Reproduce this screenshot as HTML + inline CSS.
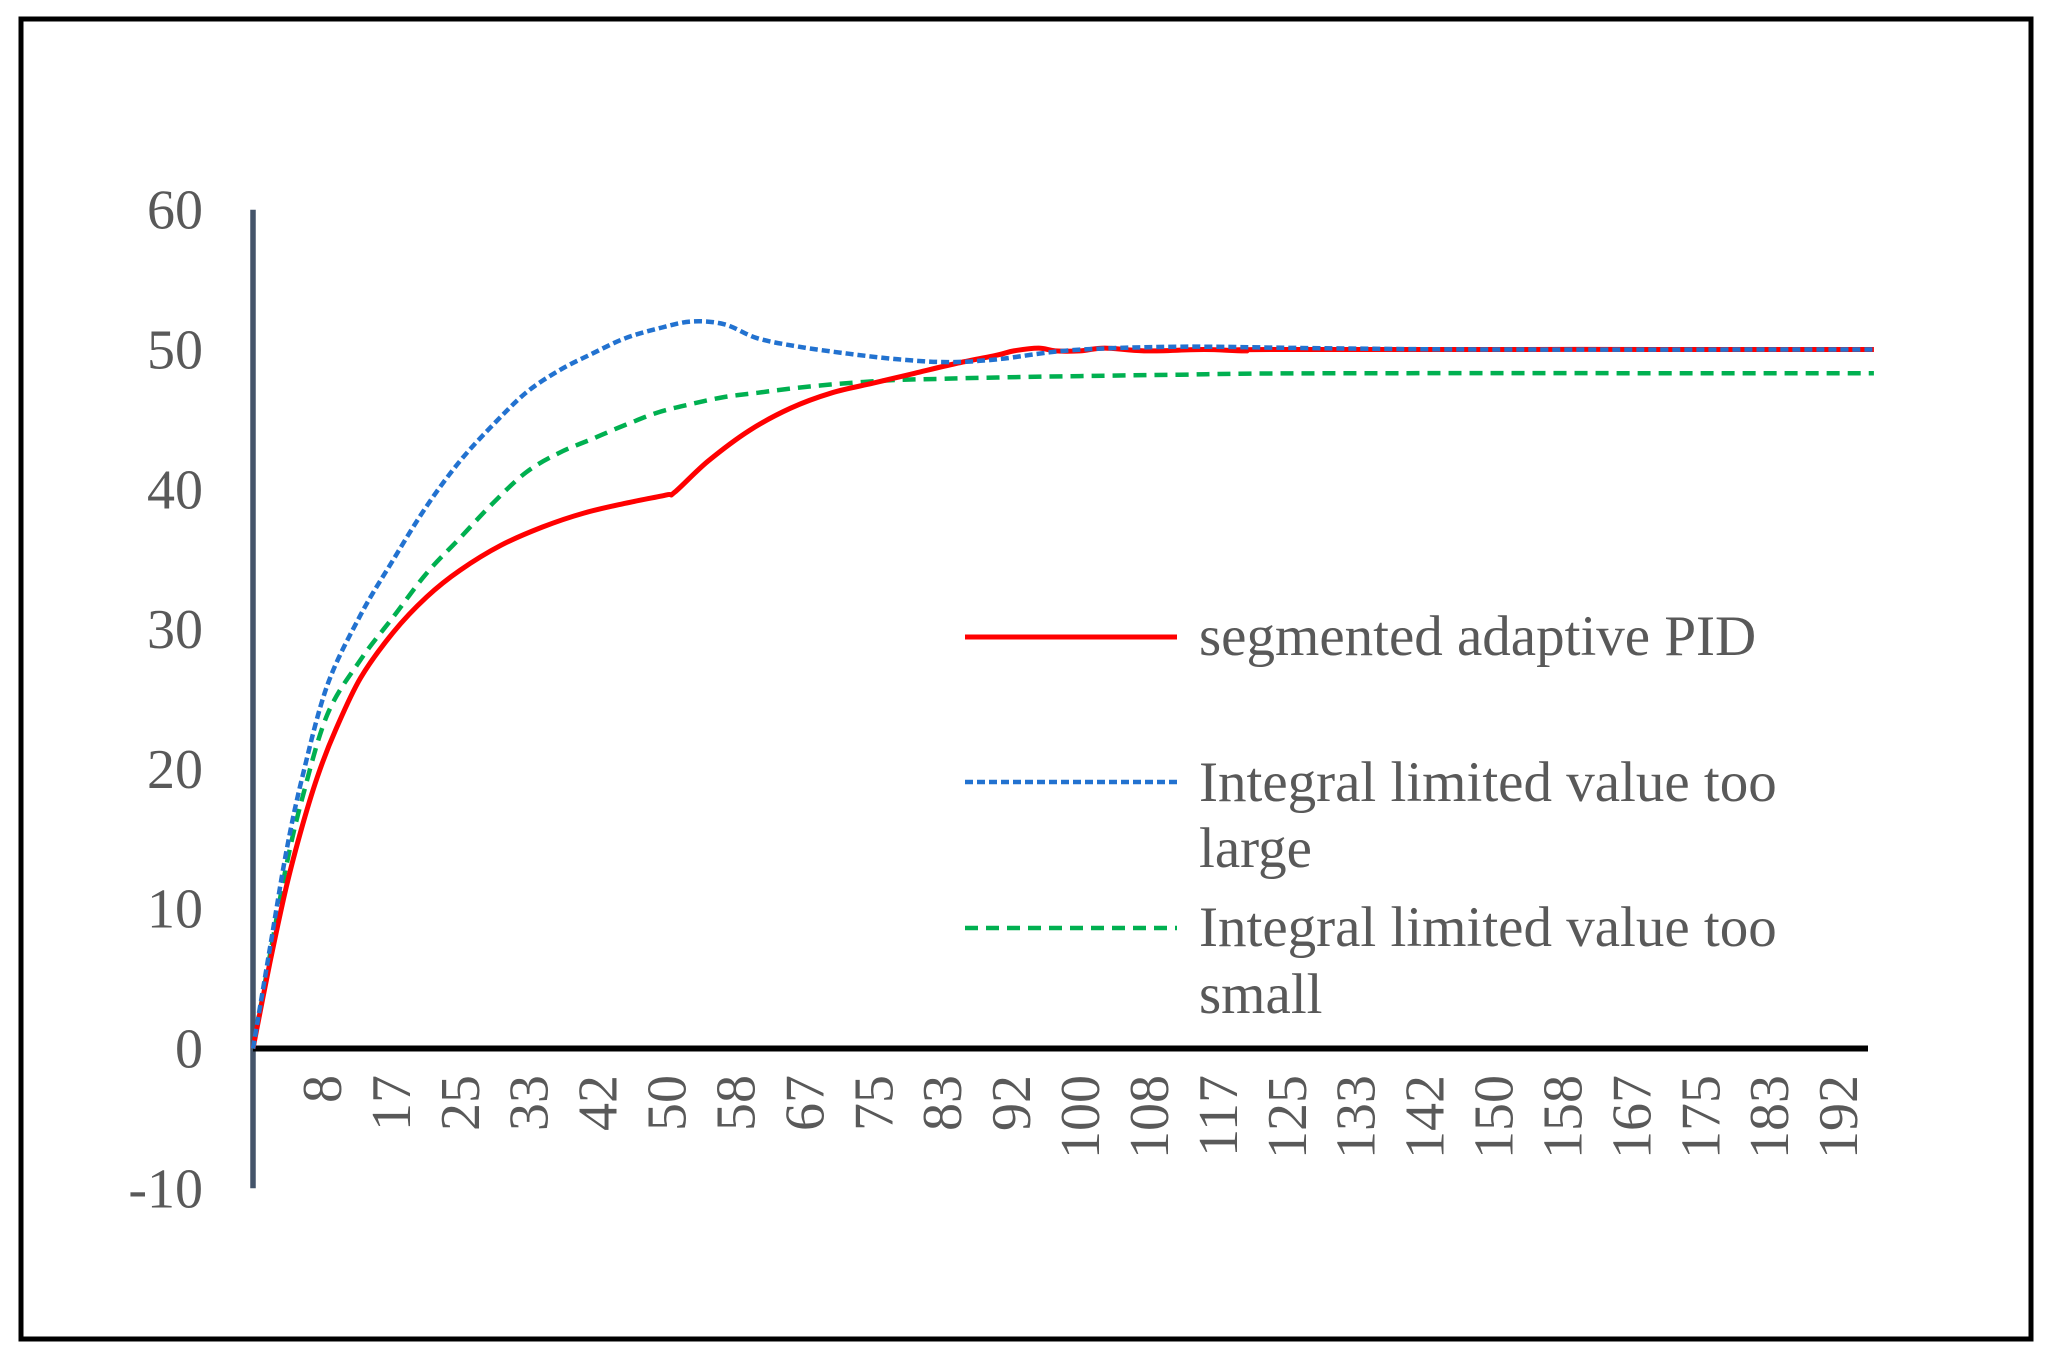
<!DOCTYPE html>
<html><head><meta charset="utf-8"><style>
html,body{margin:0;padding:0;background:#fff}
svg{display:block}
text{font-family:"Liberation Serif",serif;fill:#595959}
</style></head><body>
<svg id="chart" width="2055" height="1364" viewBox="0 0 2055 1364" xmlns="http://www.w3.org/2000/svg">
<rect x="21" y="19" width="2010" height="1320" fill="#fff" stroke="#000" stroke-width="5"/>
<g id="grid"></g>
<g id="series"></g>
<g id="legend">
 <line x1="965" y1="637" x2="1177" y2="637" stroke="#ff0000" stroke-width="5"/>
 <text x="1199" y="655" font-size="57">segmented adaptive PID</text>
 <line x1="965" y1="782" x2="1177" y2="782" stroke="#2272d0" stroke-width="4.5" stroke-dasharray="8 4"/>
 <text x="1199" y="801" font-size="57">Integral limited value too</text>
 <text x="1199" y="867" font-size="57">large</text>
 <line x1="965" y1="928" x2="1177" y2="928" stroke="#00b050" stroke-width="4.5" stroke-dasharray="13 8"/>
 <text x="1199" y="946" font-size="57">Integral limited value too</text>
 <text x="1199" y="1013" font-size="57">small</text>
</g>
</svg>
<script>
const yTicks = [60,50,40,30,20,10,0,-10];
const xTickLabels = ["8","17","25","33","42","50","58","67","75","83","92","100","108","117","125","133","142","150","158","167","175","183","192"];
const xTickValues = [8.33,16.67,25,33.33,41.67,50,58.33,66.67,75,83.33,91.67,100,108.33,116.67,125,133.33,141.67,150,158.33,166.67,175,183.33,191.67];
const redT = [0,2,4,6,8,10,13,17,21,25,30,35,40,45,50,51,55,60,65,70,75,80,85,90,92,95,97,100,103,108,115,120,125,196];
const redV = [0,6,11.5,16,19.8,22.8,26.5,29.8,32.3,34.2,36,37.3,38.3,39,39.6,39.8,42,44.2,45.8,46.9,47.6,48.3,49,49.6,49.9,50.1,49.9,49.9,50.1,49.9,50,49.9,50,50];
const blueT = [0,2,4,6,9,13,17,21,25,29,33,37,41,45,49,53,57,61,66,72,78,84,90,99,112,128,150,196];
const blueV = [0,7,14,19.5,26,31,35,38.8,42,44.6,46.9,48.5,49.7,50.8,51.5,52,51.8,50.8,50.2,49.7,49.3,49.1,49.3,49.95,50.2,50.1,50,50];
const greenT = [0,2,4,6,9,13,17,21,25,29,33,37,41,45,49,53,57,61,65,70,77,83,90,100,112,130,196];
const greenV = [0,6.5,13,18,23.9,27.8,30.9,34,36.5,39,41.2,42.6,43.6,44.6,45.5,46.1,46.6,46.9,47.2,47.5,47.8,47.9,48,48.1,48.2,48.3,48.3];

const NS='http://www.w3.org/2000/svg';
const X0=253, XS=8.27, Y0=1048.5, YS=13.98;
const xs = t => X0 + t*XS;
const ys = v => Y0 - v*YS;
function mk(tag, attrs, parent){const e=document.createElementNS(NS,tag);for(const k in attrs)e.setAttribute(k,attrs[k]);parent.appendChild(e);return e;}
const grid=document.getElementById('grid');
yTicks.forEach(v=>{
  const t=mk('text',{x:203,y:ys(v)+19,'font-size':56,'text-anchor':'end'},grid);
  
  
  t.textContent=v;
});
xTickLabels.forEach((lab,i)=>{
  const x=xs(xTickValues[i]);
  const t=mk('text',{x:0,y:0,'font-size':56,'text-anchor':'end',transform:`translate(${x+19},1075) rotate(-90)`},grid);
  
  
  t.textContent=lab;
});
const ya=mk('line',{x1:253,y1:ys(60),x2:253,y2:ys(-10),stroke:'#44546a','stroke-width':5.5},grid);


const xa=mk('line',{x1:253,y1:ys(0),x2:1868,y2:ys(0),stroke:'#000','stroke-width':6},grid);


const ser=document.getElementById('series');
function path(T,V){
  const P=T.map((t,i)=>[xs(t),ys(V[i])]);
  let d='M'+P[0][0].toFixed(1)+','+P[0][1].toFixed(1);
  for(let i=0;i<P.length-1;i++){
    const p0=P[Math.max(0,i-1)],p1=P[i],p2=P[i+1],p3=P[Math.min(P.length-1,i+2)];
    const k=1/6;
    const c1=[p1[0]+(p2[0]-p0[0])*k,p1[1]+(p2[1]-p0[1])*k];
    const c2=[p2[0]-(p3[0]-p1[0])*k,p2[1]-(p3[1]-p1[1])*k];
    d+=' C'+c1[0].toFixed(1)+','+c1[1].toFixed(1)+' '+c2[0].toFixed(1)+','+c2[1].toFixed(1)+' '+p2[0].toFixed(1)+','+p2[1].toFixed(1);
  }
  return d;
}
const g=mk('path',{d:path(greenT,greenV),fill:'none',stroke:'#00b050','stroke-width':4.5,'stroke-dasharray':'13 8','stroke-linejoin':'round'},ser);


const r=mk('path',{d:path(redT,redV),fill:'none',stroke:'#ff0000','stroke-width':5,'stroke-linejoin':'round'},ser);


const b=mk('path',{d:path(blueT,blueV),fill:'none',stroke:'#2272d0','stroke-width':4.5,'stroke-dasharray':'8 4','stroke-linejoin':'round'},ser);


</script>
</body></html>
